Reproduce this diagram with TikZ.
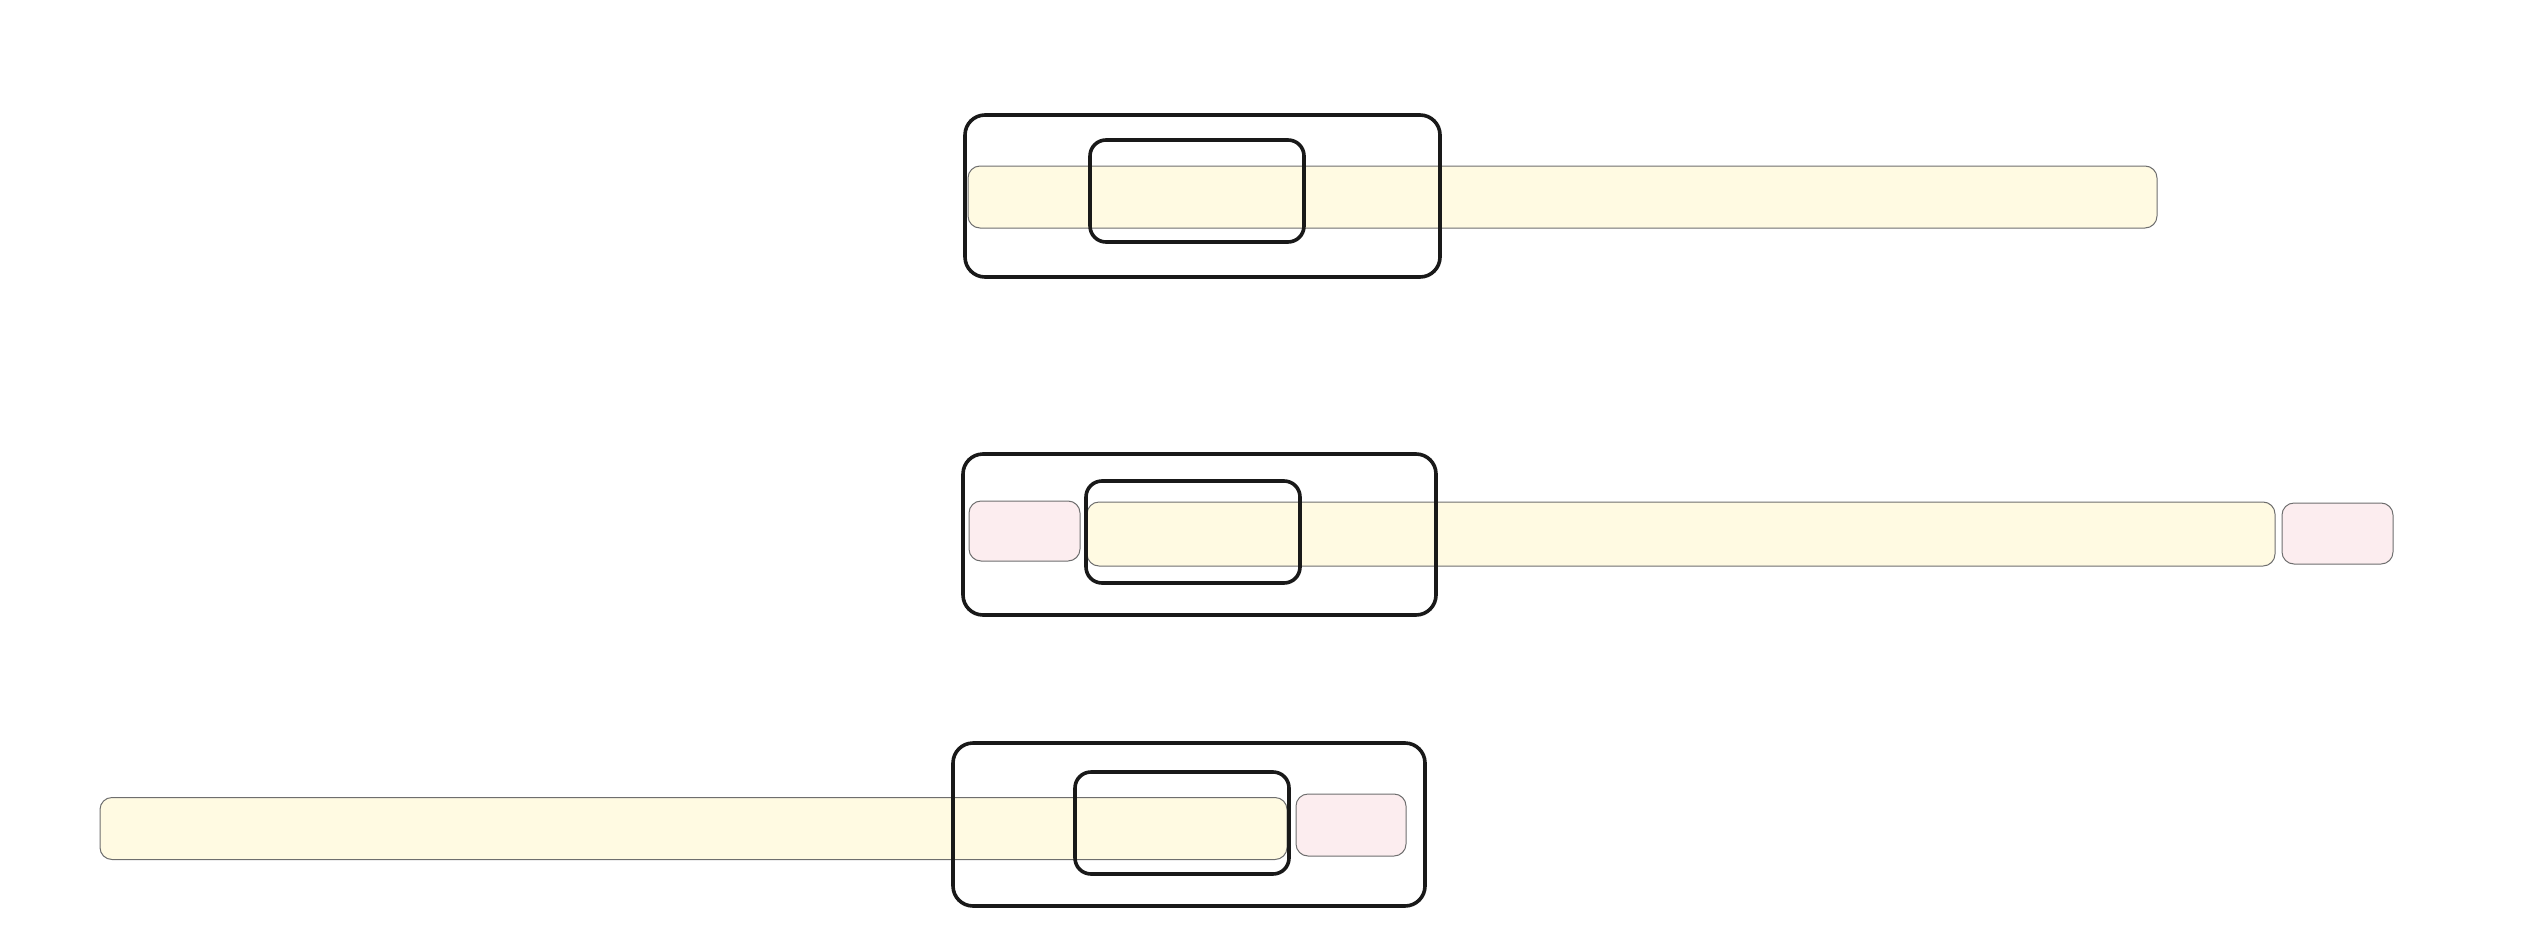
\documentclass[tikz,border=0pt]{standalone}
\definecolor{barfill}{RGB}{255,250,226}
\definecolor{pinkfill}{RGB}{252,237,239}
\definecolor{barline}{RGB}{110,110,110}
\definecolor{boxline}{RGB}{25,25,25}
\tikzset{
  box/.style={draw=boxline, line width=3.6pt, rounded corners=20pt, inner sep=0pt},
  inbox/.style={draw=boxline, line width=3.6pt, rounded corners=16pt, inner sep=0pt},
  ybar/.style={draw=barline, line width=1pt, fill=barfill, rounded corners=12pt, inner sep=0pt},
  pbar/.style={draw=barline, line width=1pt, fill=pinkfill, rounded corners=12pt, inner sep=0pt},
}
\begin{document}
\begin{tikzpicture}[x=1pt,y=-1pt]
\useasboundingbox (0,0) rectangle (2524,926);
% row 1
\node[ybar, minimum width=1189pt, minimum height=62pt] (b1) at (1562.5,197) {};
\node[box, minimum width=475pt, minimum height=162pt] (o1) at (1202.5,196) {};
\node[inbox, minimum width=214pt, minimum height=102pt] (i1) at (1197,191) {};
% row 2
\node[pbar, minimum width=111pt, minimum height=60pt] (p2a) at (1024.5,531) {};
\node[ybar, minimum width=1188pt, minimum height=64pt] (b2) at (1681,534) {};
\node[pbar, minimum width=111pt, minimum height=61pt] (p2b) at (2337.5,533.5) {};
\node[box, minimum width=473pt, minimum height=161pt] (o2) at (1199.5,534.5) {};
\node[inbox, minimum width=214pt, minimum height=102pt] (i2) at (1193,532) {};
% row 3
\node[ybar, minimum width=1187pt, minimum height=62pt] (b3) at (693.5,828.5) {};
\node[pbar, minimum width=110pt, minimum height=62pt] (p3) at (1351,825) {};
\node[box, minimum width=472pt, minimum height=163pt] (o3) at (1189,824.5) {};
\node[inbox, minimum width=214pt, minimum height=102pt] (i3) at (1182,823) {};
\end{tikzpicture}
\end{document}
